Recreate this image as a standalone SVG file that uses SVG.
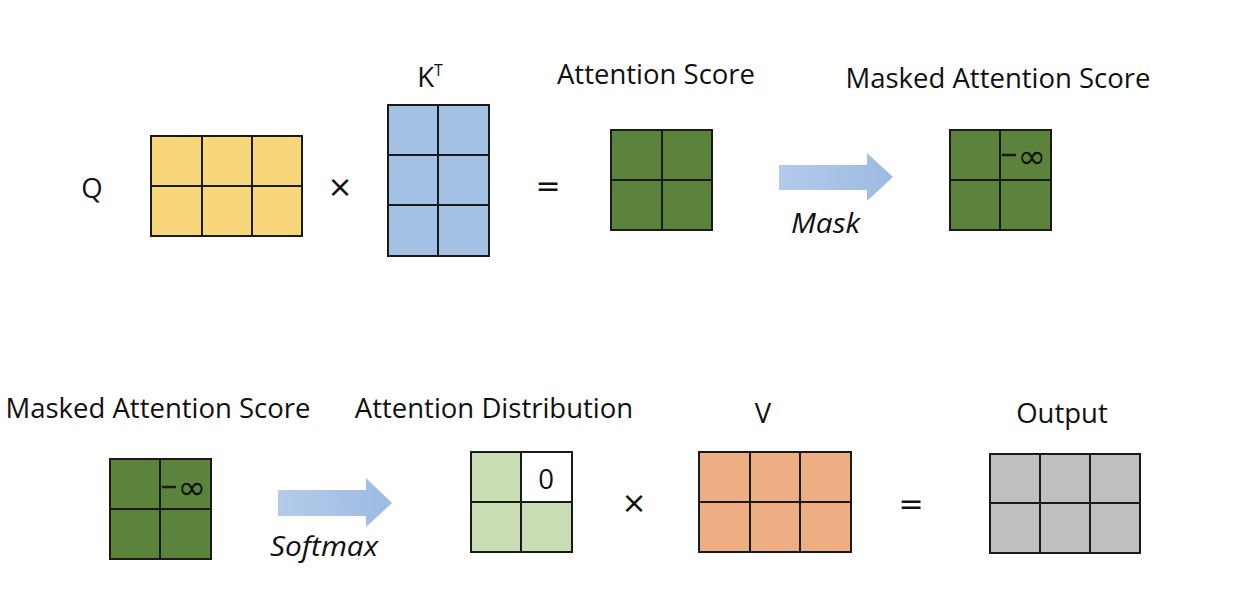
<svg xmlns="http://www.w3.org/2000/svg" width="1242" height="604" viewBox="0 0 1242 604">
<defs>
<linearGradient id="arrowGrad" x1="0" y1="0" x2="1" y2="0">
<stop offset="0" stop-color="#B4CBEA"/>
<stop offset="1" stop-color="#9DBAE2"/>
</linearGradient>
</defs>
<style>
.lbl{font-family:"Open Sans","Noto Sans",sans-serif;font-size:27.5px;fill:#111;}
.op{font-family:"DejaVu Sans",sans-serif;font-size:30px;fill:#111;}
.it{font-family:"Open Sans","Noto Sans",sans-serif;font-size:27px;font-style:italic;fill:#111;}
.grid{stroke:#1a1a1a;stroke-width:2;}
.yel{fill:#F8D67A;}
.blu{fill:#A3C1E2;}
.grn{fill:#5B833C;}
.lgr{fill:#C8DDB4;}
.org{fill:#EEAE84;}
.gry{fill:#BFBFBF;}
.arrow{fill:url(#arrowGrad);}
.inf{font-family:"DejaVu Sans",sans-serif;font-size:34px;fill:#111;}
</style>
<rect width="1242" height="604" fill="#FFFFFF"/>

<g id="label-Q"><text class="lbl" x="92" y="198" text-anchor="middle">Q</text></g>
<g id="matrix-Q" class="grid">
<rect class="yel" x="151" y="136" width="151" height="100"/>
<line x1="202" y1="136" x2="202" y2="236"/><line x1="252" y1="136" x2="252" y2="236"/>
<line x1="151" y1="186" x2="302" y2="186"/>
</g>
<g id="op-times1"><text class="op" x="340" y="197" text-anchor="middle">×</text></g>

<g id="label-KT"><text class="lbl" x="430" y="87" text-anchor="middle">K<tspan font-size="16" dy="-11">T</tspan></text></g>
<g id="matrix-KT" class="grid">
<rect class="blu" x="388" y="105" width="101" height="151"/>
<line x1="438" y1="105" x2="438" y2="256"/>
<line x1="388" y1="155" x2="489" y2="155"/><line x1="388" y1="205" x2="489" y2="205"/>
</g>
<g id="op-eq1"><text class="op" x="548" y="196" text-anchor="middle">=</text></g>

<g id="label-score"><text class="lbl" x="656" y="84" text-anchor="middle">Attention Score</text></g>
<g id="matrix-score" class="grid">
<rect class="grn" x="611" y="130" width="101" height="100"/>
<line x1="662" y1="130" x2="662" y2="230"/>
<line x1="611" y1="180" x2="712" y2="180"/>
</g>

<g id="arrow-mask">
<polygon class="arrow" points="779,165 867,165 867,153 893,177 867,201 867,190 779,190"/>
<text class="it" x="791" y="233" textLength="69" lengthAdjust="spacingAndGlyphs">Mask</text>
</g>

<g id="label-masked1"><text class="lbl" x="998" y="88" text-anchor="middle">Masked Attention Score</text></g>
<g id="matrix-masked1" class="grid">
<rect class="grn" x="950" y="130" width="101" height="100"/>
<line x1="1000" y1="130" x2="1000" y2="230"/>
<line x1="950" y1="180" x2="1051" y2="180"/>
<line x1="1002" y1="155" x2="1016" y2="155" stroke-width="2.5"/>
<text class="inf" x="1032" y="168" text-anchor="middle" stroke="none">∞</text>
</g>

<g id="label-masked2"><text class="lbl" x="158" y="418" text-anchor="middle">Masked Attention Score</text></g>
<g id="matrix-masked2" class="grid">
<rect class="grn" x="110" y="459" width="101" height="100"/>
<line x1="160" y1="459" x2="160" y2="559"/>
<line x1="110" y1="509" x2="211" y2="509"/>
<line x1="162" y1="487" x2="176" y2="487" stroke-width="2.5"/>
<text class="inf" x="192" y="499" text-anchor="middle" stroke="none">∞</text>
</g>

<g id="arrow-softmax">
<polygon class="arrow" points="278,490 366,490 366,478 392,503 366,527 366,516 278,516"/>
<text class="it" x="270" y="556" textLength="108" lengthAdjust="spacingAndGlyphs">Softmax</text>
</g>

<g id="label-dist"><text class="lbl" x="494" y="418" text-anchor="middle">Attention Distribution</text></g>
<g id="matrix-dist" class="grid">
<rect class="lgr" x="471" y="452" width="101" height="100"/>
<rect x="521" y="452" width="51" height="50" fill="#FFFFFF"/>
<line x1="521" y1="452" x2="521" y2="552"/>
<line x1="471" y1="502" x2="572" y2="502"/>
<text class="lbl" x="546" y="489" text-anchor="middle" stroke="none">0</text>
</g>
<g id="op-times2"><text class="op" x="634" y="513" text-anchor="middle">×</text></g>

<g id="label-V"><text class="lbl" x="763" y="423" text-anchor="middle">V</text></g>
<g id="matrix-V" class="grid">
<rect class="org" x="699" y="452" width="152" height="100"/>
<line x1="750" y1="452" x2="750" y2="552"/><line x1="800" y1="452" x2="800" y2="552"/>
<line x1="699" y1="502" x2="851" y2="502"/>
</g>
<g id="op-eq2"><text class="op" x="911" y="514" text-anchor="middle">=</text></g>

<g id="label-output"><text class="lbl" x="1062" y="423" text-anchor="middle">Output</text></g>
<g id="matrix-output" class="grid">
<rect class="gry" x="990" y="454" width="150" height="99"/>
<line x1="1040" y1="454" x2="1040" y2="553"/><line x1="1090" y1="454" x2="1090" y2="553"/>
<line x1="990" y1="503" x2="1140" y2="503"/>
</g>
</svg>
